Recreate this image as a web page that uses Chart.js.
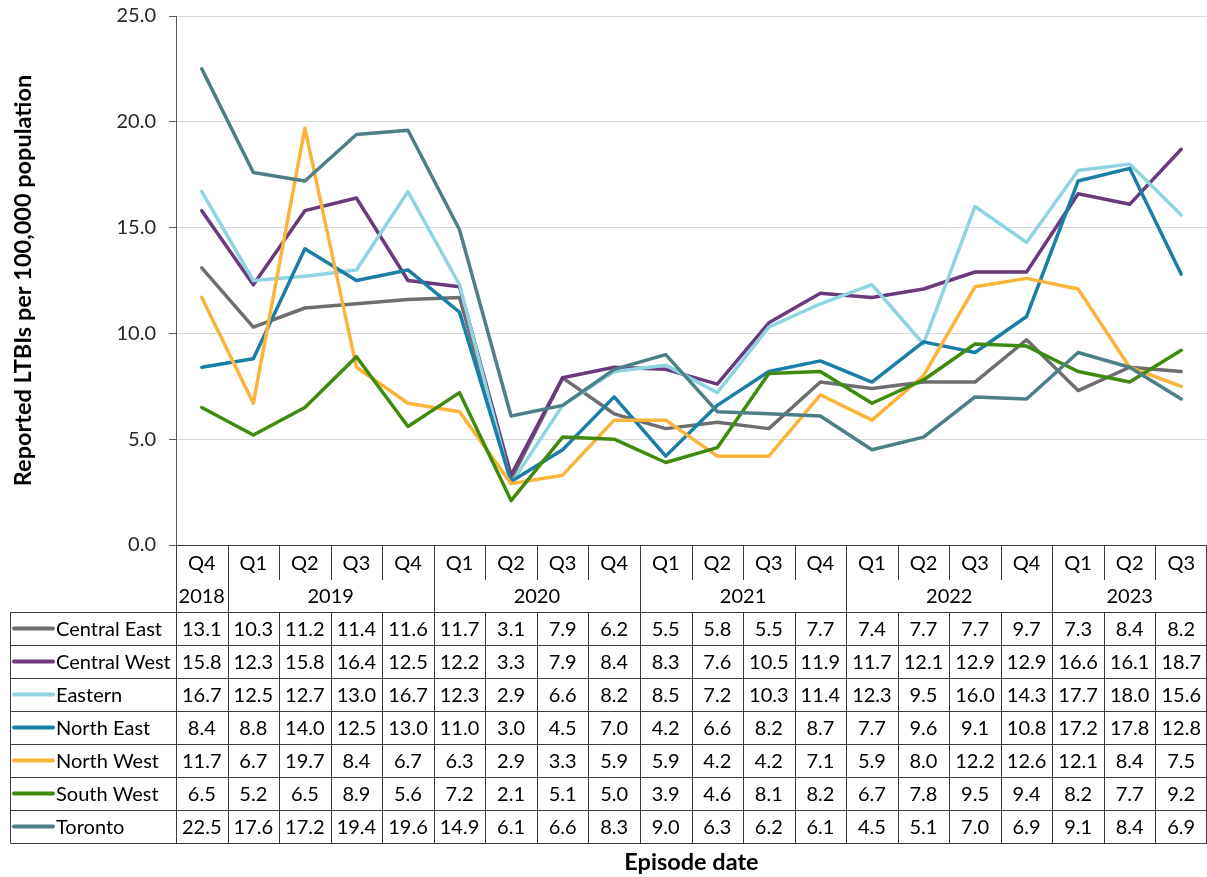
<!DOCTYPE html>
<html>
<head>
<meta charset="utf-8">
<title>Reported LTBIs per 100,000 population by region</title>
<script src="https://cdn.jsdelivr.net/npm/chart.js@4.4.0/dist/chart.umd.min.js"></script>
<style>
  html, body { margin: 0; padding: 0; background: #ffffff; }
  canvas { display: block; }
</style>
</head>
<body>
<canvas id="chart" width="1207" height="877"></canvas>
<script>
// Quarter and year labels for each column of the data table
const quarters = ['Q4','Q1','Q2','Q3','Q4','Q1','Q2','Q3','Q4','Q1','Q2','Q3','Q4','Q1','Q2','Q3','Q4','Q1','Q2','Q3'];
const columnYears = ['2018','2019','2019','2019','2019','2020','2020','2020','2020','2021','2021','2021','2021','2022','2022','2022','2022','2023','2023','2023'];

// Reported LTBIs per 100,000 population, by region
const regionNames = ['Central East','Central West','Eastern','North East','North West','South West','Toronto'];
const centralEast = [13.1,10.3,11.2,11.4,11.6,11.7,3.1,7.9,6.2,5.5,5.8,5.5,7.7,7.4,7.7,7.7,9.7,7.3,8.4,8.2];
const centralWest = [15.8,12.3,15.8,16.4,12.5,12.2,3.3,7.9,8.4,8.3,7.6,10.5,11.9,11.7,12.1,12.9,12.9,16.6,16.1,18.7];
const eastern     = [16.7,12.5,12.7,13.0,16.7,12.3,2.9,6.6,8.2,8.5,7.2,10.3,11.4,12.3,9.5,16.0,14.3,17.7,18.0,15.6];
const northEast   = [8.4,8.8,14.0,12.5,13.0,11.0,3.0,4.5,7.0,4.2,6.6,8.2,8.7,7.7,9.6,9.1,10.8,17.2,17.8,12.8];
const northWest   = [11.7,6.7,19.7,8.4,6.7,6.3,2.9,3.3,5.9,5.9,4.2,4.2,7.1,5.9,8.0,12.2,12.6,12.1,8.4,7.5];
const southWest   = [6.5,5.2,6.5,8.9,5.6,7.2,2.1,5.1,5.0,3.9,4.6,8.1,8.2,6.7,7.8,9.5,9.4,8.2,7.7,9.2];
const toronto     = [22.5,17.6,17.2,19.4,19.6,14.9,6.1,6.6,8.3,9.0,6.3,6.2,6.1,4.5,5.1,7.0,6.9,9.1,8.4,6.9];

const seriesValues = [centralEast, centralWest, eastern, northEast, northWest, southWest, toronto];
const seriesColors = ['#6e6e70','#6a3a7c','#8fd4e0','#1a7ea6','#fbb33a','#3f8a0f','#4e7f86'];

const FONT = 'Lato, "Open Sans", "Noto Sans", sans-serif';
const TEXT_SIZE = 20;
const TITLE_SIZE = 23.5;

// Geometry of the data table under the plot
const TABLE = {
  quarterRowBottom: 580,
  yearRowBottom: 612,
  rowHeight: 33,
  leftEdge: 10.5,
  keyStart: 14,
  keyEnd: 53,
  labelX: 56,
  lineColor: '#3c3c3c'
};

// Draws the quarter/year header and the value table aligned with the x scale
const dataTablePlugin = {
  id: 'dataTable',
  afterDraw(chart) {
    const ctx = chart.ctx;
    const xs = chart.scales.x;
    const area = chart.chartArea;
    const n = quarters.length;
    const colW = (area.right - area.left) / n;
    const top = area.bottom;
    const rowsBottom = TABLE.yearRowBottom + TABLE.rowHeight * regionNames.length;
    const px = v => Math.round(v) + 0.5;
    const colLeft = i => xs.getPixelForValue(i) - colW / 2;

    ctx.save();
    ctx.strokeStyle = TABLE.lineColor;
    ctx.lineWidth = 1;

    const hline = (x1, x2, y) => { ctx.beginPath(); ctx.moveTo(x1, px(y)); ctx.lineTo(x2, px(y)); ctx.stroke(); };
    const vline = (x, y1, y2) => { ctx.beginPath(); ctx.moveTo(px(x), y1); ctx.lineTo(px(x), y2); ctx.stroke(); };

    // Header borders
    hline(area.left, area.right, top);
    hline(TABLE.leftEdge, area.right, TABLE.yearRowBottom);
    for (let r = 1; r <= regionNames.length; r++) {
      hline(TABLE.leftEdge, area.right, TABLE.yearRowBottom + r * TABLE.rowHeight);
    }
    // Vertical borders
    vline(area.left, top, rowsBottom);
    vline(area.right - 1, top, rowsBottom);
    vline(TABLE.leftEdge - 0.5, TABLE.yearRowBottom, rowsBottom);
    for (let i = 1; i < n; i++) {
      const x = colLeft(i);
      const yearBreak = columnYears[i] !== columnYears[i - 1];
      vline(x, top, yearBreak ? rowsBottom : TABLE.quarterRowBottom);
      if (!yearBreak) vline(x, TABLE.yearRowBottom, rowsBottom);
    }

    ctx.fillStyle = '#000000';
    ctx.font = TEXT_SIZE + 'px ' + FONT;
    ctx.textAlign = 'center';
    ctx.textBaseline = 'middle';

    // Quarter labels
    quarters.forEach((q, i) => {
      ctx.fillText(q, xs.getPixelForValue(i), (top + TABLE.quarterRowBottom) / 2 + 1);
    });
    // Year labels centred over their quarters
    let start = 0;
    for (let i = 1; i <= n; i++) {
      if (i === n || columnYears[i] !== columnYears[start]) {
        const cx = (xs.getPixelForValue(start) + xs.getPixelForValue(i - 1)) / 2;
        ctx.fillText(columnYears[start], cx, (TABLE.quarterRowBottom + TABLE.yearRowBottom) / 2 + 1);
        start = i;
      }
    }

    // Value rows with legend keys
    regionNames.forEach((name, r) => {
      const cy = TABLE.yearRowBottom + r * TABLE.rowHeight + TABLE.rowHeight / 2 + 1;
      ctx.strokeStyle = seriesColors[r];
      ctx.lineWidth = 4;
      ctx.lineCap = 'round';
      ctx.beginPath();
      ctx.moveTo(TABLE.keyStart, cy - 1);
      ctx.lineTo(TABLE.keyEnd, cy - 1);
      ctx.stroke();

      ctx.textAlign = 'left';
      ctx.fillText(name, TABLE.labelX, cy);
      ctx.textAlign = 'center';
      seriesValues[r].forEach((v, i) => {
        ctx.fillText(v.toFixed(1), xs.getPixelForValue(i), cy);
      });
    });
    ctx.restore();
  }
};

new Chart(document.getElementById('chart'), {
  type: 'line',
  data: {
    labels: quarters.map((q, i) => q + ' ' + columnYears[i]),
    datasets: regionNames.map((name, r) => ({
      label: name,
      data: seriesValues[r],
      borderColor: seriesColors[r],
      backgroundColor: seriesColors[r],
      borderWidth: 3.5,
      borderJoinStyle: 'round',
      borderCapStyle: 'round',
      pointRadius: 0,
      tension: 0,
      fill: false,
      order: regionNames.length - r
    }))
  },
  options: {
    responsive: false,
    devicePixelRatio: 1,
    animation: false,
    layout: { autoPadding: false, padding: { top: 16, right: 0, bottom: 0, left: 0 } },
    plugins: {
      legend: { display: false },
      tooltip: { enabled: false },
      title: { display: false }
    },
    scales: {
      x: {
        offset: true,
        grid: { display: false },
        border: { display: false },
        ticks: { display: false },
        title: {
          display: true,
          text: 'Episode date',
          font: { family: FONT, size: TITLE_SIZE, weight: 'bold' },
          color: '#000000',
          padding: { top: 0, bottom: 0 }
        },
        afterFit(scale) { scale.height = 332; }
      },
      y: {
        min: 0,
        max: 25,
        ticks: {
          stepSize: 5,
          callback: v => Number(v).toFixed(1),
          font: { family: FONT, size: TEXT_SIZE },
          color: '#262626',
          padding: 13
        },
        grid: { color: '#d9d9d9', tickColor: '#595959', tickLength: 7, lineWidth: 1 },
        border: { color: '#595959', width: 1 },
        title: {
          display: true,
          text: 'Reported LTBIs per 100,000 population',
          font: { family: FONT, size: TITLE_SIZE, weight: 'bold' },
          color: '#000000',
          padding: { top: 9, bottom: 0 }
        },
        afterFit(scale) {
          scale.width = 176;
          scale.paddingTop = 0;
          scale.paddingBottom = 0;
        }
      }
    }
  },
  plugins: [dataTablePlugin]
});
</script>
</body>
</html>
